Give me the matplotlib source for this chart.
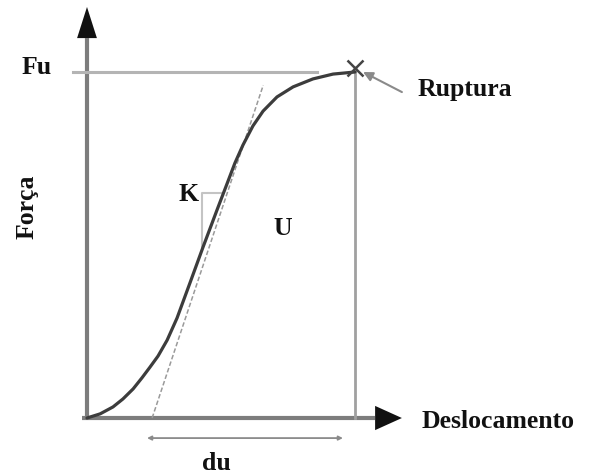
import matplotlib.pyplot as plt

# force-displacement curve, normalised so rupture sits at (1, 1)
disp = [0.0, 0.049, 0.097, 0.134, 0.172, 0.205, 0.235, 0.265, 0.299, 0.336, 0.384,
        0.433, 0.485, 0.522, 0.552, 0.582, 0.619, 0.657, 0.709, 0.769, 0.843,
        0.918, 1.0]
force = [0.0, 0.012, 0.032, 0.055, 0.084, 0.116, 0.147, 0.179, 0.225, 0.289, 0.390,
         0.494, 0.601, 0.676, 0.737, 0.789, 0.844, 0.887, 0.928, 0.957, 0.980,
         0.994, 1.0]

fu = 1.0            # ultimate force
d_rup = 1.0         # displacement at rupture
k_x0 = 0.243        # where the initial stiffness line meets the axis
k_top = 0.962       # top of the stiffness line
k_slope = 2.32      # initial stiffness
k_step = (0.430, 0.507, 0.494, 0.650)   # x_left, x_right, y_low, y_high
du_span = (0.224, 0.955)
du_y = -0.058

x_tip, y_tip = 1.175, 1.188

fig = plt.figure(figsize=(5.99, 4.76), dpi=100)
ax = fig.add_axes([0, 0, 1, 1])
ax.set_xlim(-0.3246, 1.9104)
ax.set_ylim(-0.1676, 1.2081)
ax.axis('off')

axis_c = '#7d7d7d'
font = dict(family='Liberation Serif', weight='bold', size=18.5, color='#111111')

# axes shafts
ax.plot([0, 0], [0, y_tip - 0.09], color=axis_c, lw=3, solid_capstyle='butt')
ax.plot([-0.02, x_tip - 0.1], [0, 0], color=axis_c, lw=3, solid_capstyle='butt')
# arrow heads
hx, hy = 0.035, 0.037
ax.fill([0 - hy, 0 + hy, 0], [y_tip - 0.09, y_tip - 0.09, y_tip], color='#111111', lw=0)
ax.fill([x_tip - 0.1, x_tip - 0.1, x_tip], [-hx, hx, 0], color='#111111', lw=0)

# Fu level and rupture vertical
ax.plot([-0.052, 0.858], [fu, fu], color='#b4b4b4', lw=2.2)
ax.plot([d_rup, d_rup], [0, fu], color='#a0a0a0', lw=2)

# initial stiffness line
ax.plot([k_x0, k_x0 + k_top / k_slope], [0, k_top], color='#9a9a9a', lw=1.1,
        ls=(0, (3, 1.5)))
kx0, kx1, ky0, ky1 = k_step
ax.plot([kx0, kx0, kx1], [ky0, ky1, ky1], color='#c4c4c4', lw=1.5)

# curve
ax.plot(disp, force, color='#3c3c3c', lw=2.3, solid_joinstyle='round', solid_capstyle='round')
ax.plot([d_rup], [fu + 0.012], marker='x', ms=11, mew=1.8, color='#444444')

# rupture pointer
ax.annotate('', xy=(d_rup + 0.03, fu), xytext=(1.175, 0.942),
            arrowprops=dict(arrowstyle='-|>', color='#8a8a8a', lw=1.5,
                            mutation_scale=14, shrinkA=0, shrinkB=0))

# du dimension
ax.annotate('', xy=(du_span[0], du_y), xytext=(du_span[1], du_y),
            arrowprops=dict(arrowstyle='<|-|>', color='#8a8a8a', lw=1.3,
                            mutation_scale=6, shrinkA=0, shrinkB=0))

ax.text(-0.187, 1.012, 'Fu', ha='center', va='center', **font)
ax.text(-0.222, 0.61, 'Força', ha='center', va='center', rotation=90, **font)
ax.text(0.377, 0.645, 'K', ha='center', va='center', **font)
ax.text(0.731, 0.549, 'U', ha='center', va='center', **font)
ax.text(1.235, 0.95, 'Ruptura', ha='left', va='center', **font)
ax.text(1.25, -0.01, 'Deslocamento', ha='left', va='center', **font)
ax.text(0.481, -0.150, 'du', ha='center', va='baseline', **font)

fig.savefig('out.png', dpi=100)
